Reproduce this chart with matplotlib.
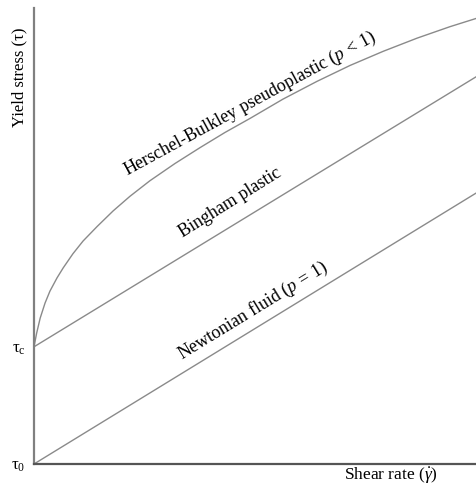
import matplotlib
matplotlib.use("Agg")
import matplotlib.pyplot as plt

plt.rcParams['font.family'] = ['Liberation Serif', 'DejaVu Serif']
plt.rcParams['mathtext.fontset'] = 'custom'
plt.rcParams['mathtext.rm'] = 'Liberation Serif'
plt.rcParams['mathtext.it'] = 'Liberation Serif:italic'

# data (arbitrary units, x 0-10, y 0-10)
tau_c = 2.57
tau_0 = 0.0
newton_x = [0.0, 10.0]
newton_y = [0.0, 5.94]
bingham_x = [0.0, 10.0]
bingham_y = [2.57, 8.49]
hb_x = [0.0, 0.06, 0.14, 0.25, 0.36, 0.52, 0.66, 0.88, 1.11, 1.43, 1.79, 2.17,
        2.62, 3.19, 3.76, 4.32, 4.89, 5.63, 6.40, 7.15, 7.90, 8.67, 9.41, 10.0]
hb_y = [2.57, 2.87, 3.20, 3.53, 3.79, 4.08, 4.30, 4.61, 4.89, 5.21, 5.55, 5.87,
        6.21, 6.59, 6.94, 7.27, 7.58, 8.00, 8.39, 8.74, 9.05, 9.34, 9.59, 9.77]

fig = plt.figure(figsize=(4.76, 4.90), dpi=100)
ax = fig.add_axes([34/476, 26/490, 442/476, 456/490])
ax.set_xlim(0, 10)
ax.set_ylim(0, 10)

lc = '#8a8a8a'
for xs, ys in [(newton_x, newton_y), (bingham_x, bingham_y), (hb_x, hb_y)]:
    ax.plot(xs, ys, color=lc, lw=1.0, clip_on=False, solid_joinstyle='round')

for s in ['top', 'right']:
    ax.spines[s].set_visible(False)
ax.spines['left'].set_color('#808080')
ax.spines['left'].set_linewidth(1.6)
ax.spines['bottom'].set_color('#555555')
ax.spines['bottom'].set_linewidth(1.6)
ax.set_xticks([])
ax.set_yticks([tau_0, tau_c])
ax.set_yticklabels([r'$\mathrm{\tau}_\mathrm{0}$', r'$\mathrm{\tau}_\mathrm{c}$'], fontsize=12)
ax.tick_params(axis='y', length=0, pad=6)

fig.text(19/476, 1 - 77/490, 'Yield stress (τ)', rotation=90, ha='center', va='center', fontsize=12)
fig.text(391/476, 1 - 476/490, r'Shear rate ($\dot{\gamma}$)', ha='center', va='center', fontsize=12.5)

def lab(px, py, txt, ang):
    fig.text(px/476, 1 - py/490, txt, rotation=ang, ha='center', va='center',
             rotation_mode='anchor', fontsize=13)

lab(250, 104, r'Herschel-Bulkley pseudoplastic ($p$ < 1)', 28.5)
lab(230, 203, 'Bingham plastic', 32)
lab(253, 311, r'Newtonian fluid ($p$ = 1)', 31.5)

fig.savefig('out.png', dpi=100)
